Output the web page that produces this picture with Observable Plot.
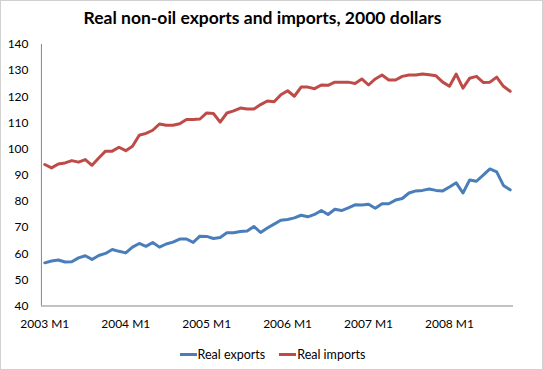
<!DOCTYPE html>
<html>
<head>
<meta charset="utf-8">
<script src="https://cdn.jsdelivr.net/npm/d3@7"></script>
<script src="https://cdn.jsdelivr.net/npm/@observablehq/plot@0.6"></script>
<style>
  html, body { margin: 0; padding: 0; background: #fff; }
  #frame { position: relative; width: 543px; height: 370px; box-sizing: border-box; border: 1px solid #d0d0d0; overflow: hidden; font-family: Lato, "Open Sans", sans-serif; }
  #title { position: absolute; left: -10px; top: 6px; width: 543px; text-align: center; font-weight: bold; font-size: 17.5px; color: #000; }
  #chart { position: absolute; left: -1px; top: 29px; }
  #legend { position: absolute; left: 0; top: 346px; width: 543px; text-align: center; font-size: 12.5px; color: #000; white-space: nowrap; }
  .item { display: inline-block; margin: 0 7px; }
  .sw { display: inline-block; width: 17px; height: 3px; vertical-align: middle; margin-right: 1px; position: relative; top: -1px; }
</style>
</head>
<body>
<div id="frame">
  <div id="title">Real non-oil exports and imports, 2000 dollars</div>
  <div id="chart"></div>
  <div id="legend"></div>
</div>
<script>
const seriesNames = ["Real exports", "Real imports"];
const seriesColors = ["#4a7ebb", "#be4b48"];
const tickLabels = ["2003 M1", "2004 M1", "2005 M1", "2006 M1", "2007 M1", "2008 M1"];
const yTicks = [40, 50, 60, 70, 80, 90, 100, 110, 120, 130, 140];

const exportsVals = [
  56.5, 57.2, 57.6, 56.8, 56.9, 58.4, 59.2, 57.8, 59.3, 60.1, 61.6, 60.9,
  60.3, 62.5, 63.9, 62.8, 64.3, 62.5, 63.7, 64.4, 65.6, 65.6, 64.3, 66.7,
  66.6, 65.8, 66.2, 68.0, 68.0, 68.5, 68.7, 70.4, 68.1, 69.8, 71.3, 72.8,
  73.1, 73.7, 74.7, 74.1, 75.0, 76.5, 75.0, 77.0, 76.5, 77.5, 78.7, 78.6,
  78.9, 77.4, 79.1, 79.1, 80.5, 81.1, 83.2, 84.0, 84.2, 84.7, 84.2, 84.0,
  85.5, 87.1, 83.2, 88.2, 87.7, 90.0, 92.4, 91.3, 86.1, 84.4
];
const importsVals = [
  94.1, 92.8, 94.3, 94.7, 95.6, 95.0, 96.0, 93.8, 96.6, 99.2, 99.2, 100.7,
  99.4, 101.1, 105.3, 106.0, 107.2, 109.6, 109.1, 109.1, 109.7, 111.3, 111.3, 111.5,
  113.8, 113.6, 110.3, 113.8, 114.6, 115.7, 115.3, 115.3, 117.0, 118.4, 118.1, 120.8,
  122.3, 120.2, 123.7, 123.7, 123.1, 124.5, 124.4, 125.6, 125.6, 125.6, 125.1, 126.8,
  124.5, 126.8, 128.3, 126.4, 126.4, 127.8, 128.3, 128.3, 128.7, 128.4, 128.0, 125.6,
  124.0, 128.7, 123.3, 127.1, 127.8, 125.5, 125.6, 127.5, 124.0, 122.1
];

const rows = [];
[exportsVals, importsVals].forEach((vals, s) => {
  vals.forEach((v, i) => rows.push({i, v, series: seriesNames[s]}));
});
const n = exportsVals.length;

const chart = Plot.plot({
  width: 543,
  height: 301,
  marginLeft: 41,
  marginRight: 29,
  marginTop: 14,
  marginBottom: 25,
  style: {fontFamily: "Lato, 'Open Sans', sans-serif", fontSize: "12px", color: "#000", background: "transparent"},
  x: {
    domain: [-0.5, n - 0.5],
    ticks: tickLabels.map((d, k) => k * 12),
    tickFormat: i => tickLabels[i / 12],
    tickSize: 0,
    tickPadding: 14,
    label: null
  },
  y: {
    domain: [40, 140],
    ticks: yTicks,
    tickSize: 0,
    tickPadding: 13,
    label: null
  },
  color: {domain: seriesNames, range: seriesColors},
  marks: [
    Plot.ruleX([-0.5], {stroke: "#868686", strokeWidth: 1}),
    Plot.ruleY([40], {stroke: "#868686", strokeWidth: 1}),
    Plot.line(rows, {x: "i", y: "v", z: "series", stroke: "series", strokeWidth: 3, strokeLinejoin: "round", strokeLinecap: "round"})
  ]
});
document.getElementById("chart").appendChild(chart);

const legend = document.getElementById("legend");
seriesNames.forEach((name, k) => {
  const item = document.createElement("span");
  item.className = "item";
  const sw = document.createElement("span");
  sw.className = "sw";
  sw.style.background = seriesColors[k];
  item.appendChild(sw);
  item.appendChild(document.createTextNode(name));
  legend.appendChild(item);
});
</script>
</body>
</html>
